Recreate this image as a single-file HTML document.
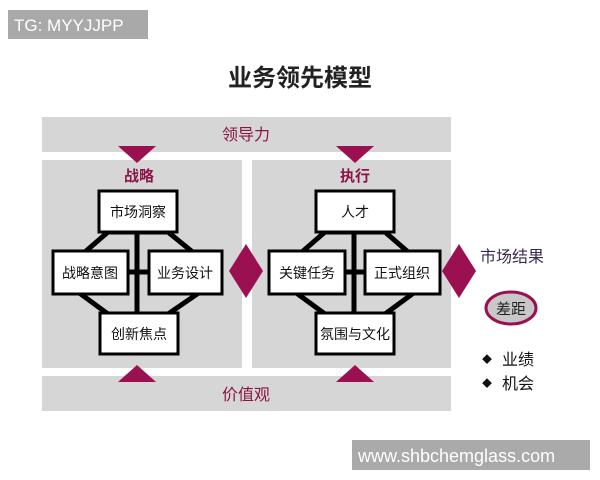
<!DOCTYPE html>
<html><head><meta charset="utf-8"><style>
body{margin:0;background:#fff;width:600px;height:480px;overflow:hidden;font-family:"Liberation Sans","Noto Sans CJK SC",sans-serif}
</style></head><body>
<svg width="600" height="480" xmlns="http://www.w3.org/2000/svg" style="position:absolute;left:0;top:0" font-family="Liberation Sans, Noto Sans CJK SC, sans-serif">
<rect x="8" y="10" width="140" height="29" fill="#a9a9a9"/>
<text x="14" y="31" font-size="17" fill="#fff">TG: MYYJJPP</text>
<text x="300" y="86" font-size="24" font-weight="bold" text-anchor="middle" fill="#222">业务领先模型</text>
<rect x="42" y="117" width="409" height="35" fill="#d6d6d6"/>
<text x="246" y="140" font-size="16" text-anchor="middle" fill="#8b1447">领导力</text>
<rect x="42" y="160" width="200" height="208" fill="#d6d6d6"/>
<rect x="252" y="160" width="199" height="208" fill="#d6d6d6"/>
<rect x="42" y="376" width="409" height="35" fill="#d6d6d6"/>
<text x="246" y="400" font-size="16" text-anchor="middle" fill="#8b1447">价值观</text>
<polygon points="118,146 156,146 137,163" fill="#9b1050"/>
<polygon points="336,146 374,146 355,163" fill="#9b1050"/>
<polygon points="118,382 156,382 137,365" fill="#9b1050"/>
<polygon points="336,382 374,382 355,365" fill="#9b1050"/>
<text x="139" y="181" font-size="15" font-weight="bold" text-anchor="middle" fill="#8b1447">战略</text>
<text x="355" y="181" font-size="15" font-weight="bold" text-anchor="middle" fill="#8b1447">执行</text>
<g stroke="#000" stroke-width="5" fill="none">
<line x1="137" y1="230" x2="137" y2="312"/><line x1="126" y1="272" x2="150" y2="272"/>
<polygon points="108,232 168,232 200,258 200,292 168,314 108,314 78,292 78,258"/>
<line x1="354" y1="230" x2="354" y2="312"/><line x1="343" y1="272" x2="366" y2="272"/>
<polygon points="325,232 385,232 415,258 415,292 385,314 325,314 295,292 295,258"/>
</g>
<g stroke="#000" stroke-width="3" fill="#fff">
<rect x="99" y="191" width="78" height="41"/><rect x="53" y="251" width="75" height="43"/>
<rect x="149" y="251" width="73" height="43"/><rect x="100" y="313" width="78" height="41"/>
<rect x="316" y="191" width="78" height="41"/><rect x="269" y="251" width="76" height="43"/>
<rect x="365" y="251" width="75" height="43"/><rect x="316" y="313" width="78" height="41"/>
</g>
<g font-size="14" text-anchor="middle" fill="#111">
<text x="138" y="217">市场洞察</text><text x="90" y="278">战略意图</text>
<text x="185" y="278">业务设计</text><text x="139" y="339">创新焦点</text>
<text x="355" y="217">人才</text><text x="307" y="278">关键任务</text>
<text x="402" y="278">正式组织</text><text x="355" y="339">氛围与文化</text>
</g>
<polygon points="246,244 263,271 246,298 229,271" fill="#9b1050"/>
<polygon points="459,244 476,271 459,298 442,271" fill="#9b1050"/>
<text x="480" y="262" font-size="16" fill="#3a2a4a">市场结果</text>
<ellipse cx="511" cy="308" rx="25" ry="16" fill="#c8c8c8" stroke="#9b1050" stroke-width="3"/>
<text x="511" y="314" font-size="15" text-anchor="middle" fill="#222">差距</text>
<text x="482" y="363" font-size="10" fill="#111">◆</text>
<text x="502" y="365" font-size="16" fill="#111">业绩</text>
<text x="482" y="387" font-size="10" fill="#111">◆</text>
<text x="502" y="389" font-size="16" fill="#111">机会</text>
<rect x="352" y="440" width="238" height="30" fill="#aaa"/>
<text x="358" y="462" font-size="18" fill="#fff">www.shbchemglass.com</text>
</svg>
</body></html>
